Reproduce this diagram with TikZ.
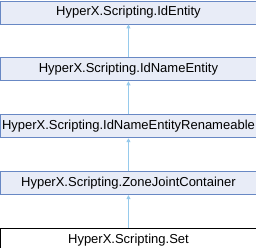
\documentclass[tikz,border=0pt]{standalone}
\usepackage{fontspec}
\setmainfont{Liberation Sans}
\usetikzlibrary{positioning,arrows.meta}

\definecolor{classfill}{RGB}{232,236,247}
\definecolor{classedge}{RGB}{104,136,196}
\definecolor{inherit}{RGB}{150,202,236}

\begin{document}
\begin{tikzpicture}[x=1bp, y=1bp, node distance=32bp, >={Triangle[length=4bp,width=4bp]}]
  \useasboundingbox (0,0) rectangle (256,-248);
  \tikzset{
    classbox/.style={draw=classedge, fill=classfill, line width=0.9bp, rectangle, inner sep=0pt,
      minimum width=255bp, minimum height=23bp, font=\fontsize{13bp}{15bp}\selectfont},
    leafbox/.style={classbox, draw=black, fill=white}
  }
  \node[classbox, anchor=north west] (identity) at (0.5,-0.5) {HyperX.Scripting.IdEntity};
  \node[classbox, below=33bp of identity] (idname) {HyperX.Scripting.IdNameEntity};
  \node[classbox, below=33bp of idname] (renameable) {HyperX.Scripting.IdNameEntityRenameable};
  \node[classbox, below=33bp of renameable] (zonejoint) {HyperX.Scripting.ZoneJointContainer};
  \node[leafbox, below=33bp of zonejoint] (set) {HyperX.Scripting.Set};

  \draw[->, inherit, line width=0.9bp] (idname) -- (identity);
  \draw[->, inherit, line width=0.9bp] (renameable) -- (idname);
  \draw[->, inherit, line width=0.9bp] (zonejoint) -- (renameable);
  \draw[->, inherit, line width=0.9bp] (set) -- (zonejoint);
\end{tikzpicture}
\end{document}
